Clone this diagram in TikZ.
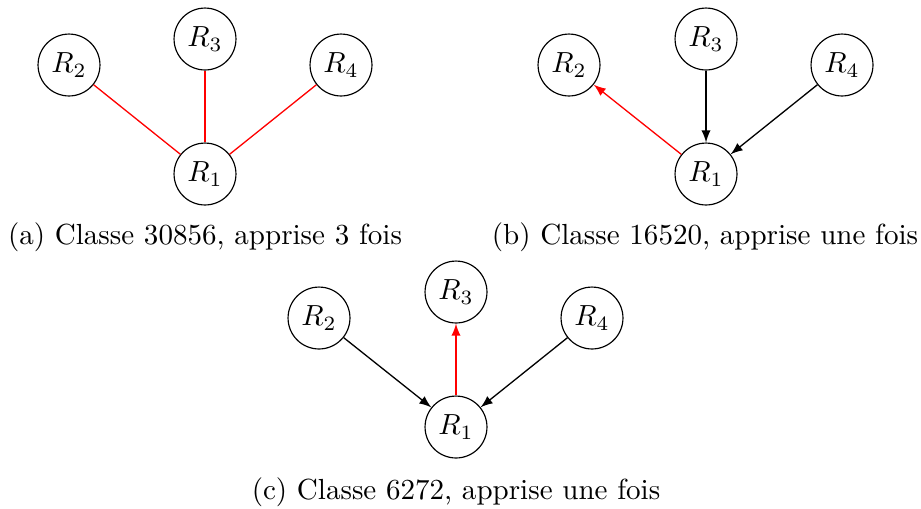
\documentclass[tikz,border=0pt]{standalone}
\usetikzlibrary{arrows}
\begin{document}
\begin{tikzpicture}[x=0.344pt,y=-0.344pt,
  rnode/.style={draw,circle,minimum size=21.3pt,inner sep=0pt,line width=0.4pt},
  redge/.style={red,line width=0.45pt},
  bedge/.style={black,line width=0.45pt},
  captext/.style={inner sep=0pt,anchor=center}]
\useasboundingbox (0,0) rectangle (921,508);
% (a)
\node[rnode] (a2) at (69,65) {$R_2$};
\node[rnode] (a3) at (205,39) {$R_3$};
\node[rnode] (a4) at (341,65) {$R_4$};
\node[rnode] (a1) at (205,174) {$R_1$};
\draw[redge] (a1) -- (a2);
\draw[redge] (a1) -- (a3);
\draw[redge] (a1) -- (a4);
\node[captext] (ca) at (205,237) {(a) Classe 30856, apprise 3 fois};
% (b)
\node[rnode] (b2) at (569,65) {$R_2$};
\node[rnode] (b3) at (706,39) {$R_3$};
\node[rnode] (b4) at (842,65) {$R_4$};
\node[rnode] (b1) at (706,174) {$R_1$};
\draw[redge,-latex] (b1) -- (b2);
\draw[bedge,-latex] (b3) -- (b1);
\draw[bedge,-latex] (b4) -- (b1);
\node[captext] (cb) at (705,237) {(b) Classe 16520, apprise une fois};
% (c)
\node[rnode] (c2) at (319,318) {$R_2$};
\node[rnode] (c3) at (456,292) {$R_3$};
\node[rnode] (c4) at (592,318) {$R_4$};
\node[rnode] (c1) at (456,427) {$R_1$};
\draw[bedge,-latex] (c2) -- (c1);
\draw[redge,-latex] (c1) -- (c3);
\draw[bedge,-latex] (c4) -- (c1);
\node[captext] (cc) at (456,492) {(c) Classe 6272, apprise une fois};
\end{tikzpicture}
\end{document}
